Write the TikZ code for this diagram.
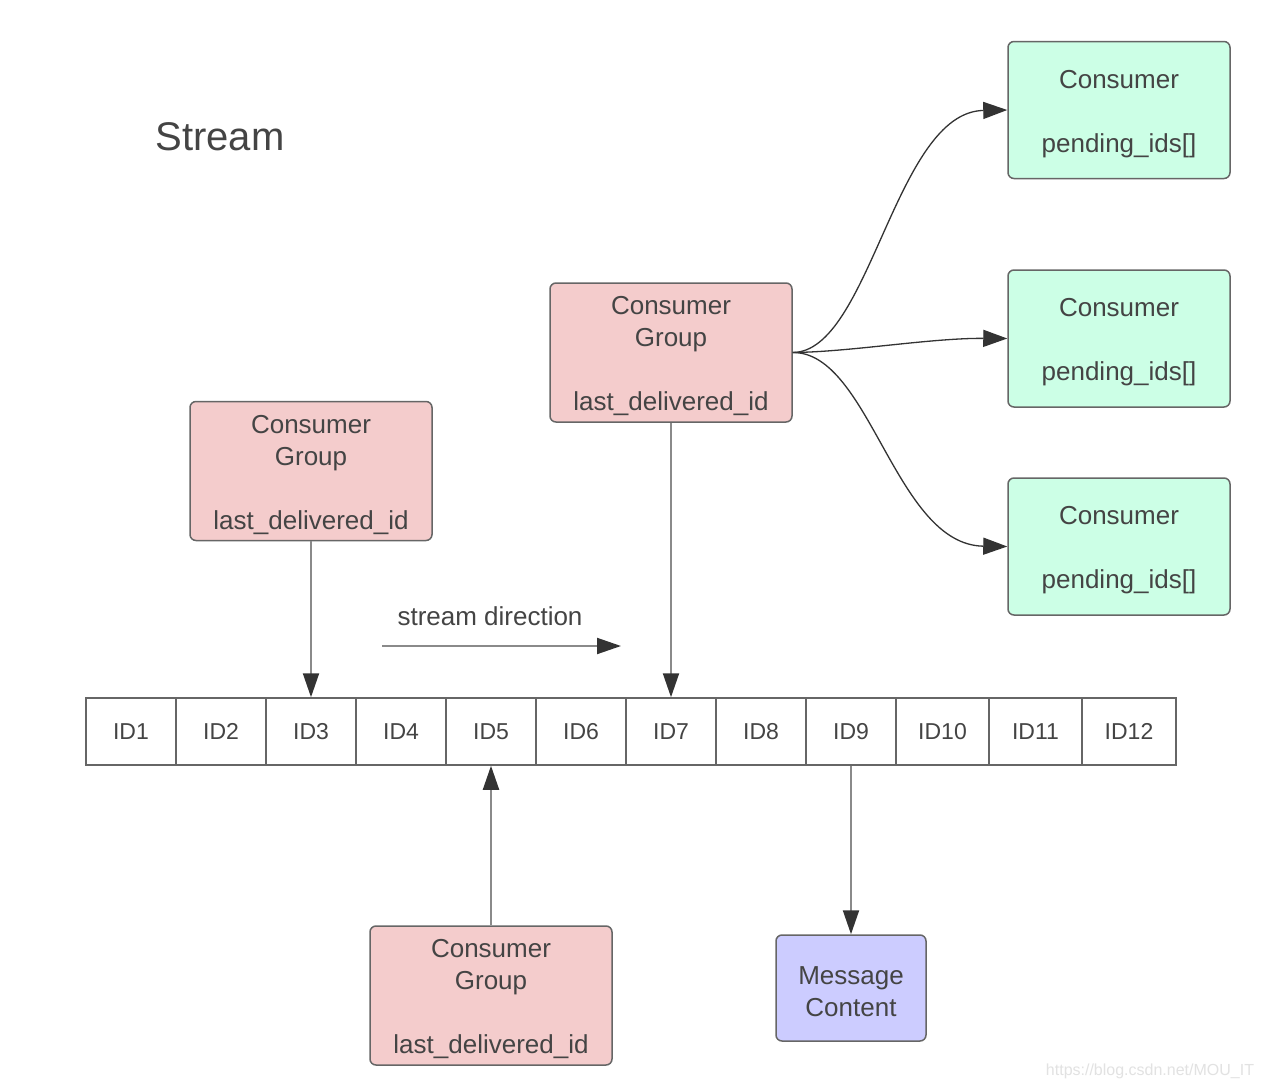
\documentclass[tikz,border=0pt]{standalone}
\usepackage{fontspec}
\setmainfont{Liberation Sans}
\usetikzlibrary{arrows.meta}
\definecolor{pinkfill}{HTML}{F4CCCC}
\definecolor{greenfill}{HTML}{CCFFE6}
\definecolor{bluefill}{HTML}{CCCCFF}
\definecolor{edge}{HTML}{666666}
\definecolor{txt}{HTML}{444444}
\definecolor{arrowgray}{HTML}{8A8A8A}
\definecolor{tipdark}{HTML}{333333}
\definecolor{wm}{HTML}{E2E2E2}
\newcommand{\topstrut}{\rule{0pt}{26pt}}
\begin{document}
\begin{tikzpicture}[x=1pt,y=-1pt,
  box/.style={draw=edge, line width=1.5pt, rounded corners=6pt, align=center, text=txt, font=\fontsize{26}{32}\selectfont, inner sep=0pt},
  group/.style={box, fill=pinkfill, minimum width=242pt, minimum height=139pt},
  consumer/.style={box, fill=greenfill, minimum width=222pt, minimum height=137pt},
  msgbox/.style={box, fill=bluefill, minimum width=150pt, minimum height=106pt},
  cell/.style={draw=edge, line width=1.5pt, text=txt, font=\fontsize{23}{28}\selectfont, minimum height=67pt, inner sep=0pt},
  feed/.style={draw=arrowgray, line width=2pt, -{Triangle[length=24pt,width=16pt,color=tipdark]}},
  fan/.style={draw=tipdark, line width=1.3pt, -{Triangle[length=24pt,width=17pt,color=tipdark]}},
  lbl/.style={text=txt, inner sep=0pt}
]
\useasboundingbox[fill=white] (0,0) rectangle (1262,1090);

\node[lbl, font=\fontsize{40}{48}\selectfont] (title) at (220,137) {Stream};

% consumers
\node[consumer] (k1) at (1119,110) {\topstrut Consumer\\[32pt]pending\_ids[]};
\node[consumer] (k2) at (1119,338.5) {\topstrut Consumer\\[32pt]pending\_ids[]};
\node[consumer] (k3) at (1119,546.5) {\topstrut Consumer\\[32pt]pending\_ids[]};

% consumer groups
\node[group] (gT) at (671,352.5) {\topstrut Consumer\\Group\\[32pt]last\_delivered\_id};
\node[group] (gL) at (311,471) {\topstrut Consumer\\Group\\[32pt]last\_delivered\_id};
\node[group] (gB) at (491,995.5) {\topstrut Consumer\\Group\\[32pt]last\_delivered\_id};

% message content
\node[msgbox] (msg) at (851,988) {\topstrut Message\\Content};

% stream cells
\foreach \i/\l/\r in {1/86/176,2/176/266,3/266/356,4/356/446,5/446/536,6/536/626,7/626/716,8/716/806,9/806/896,10/896/989,11/989/1082,12/1082/1176}
  \node[cell, minimum width={\r-\l}] (c\i) at ({(\l+\r)/2},731.5) {ID\i};

% stream direction
\node[lbl, font=\fontsize{26}{30}\selectfont] (sdl) at (490,616) {stream direction};
\coordinate (sd1) at (382,646);
\coordinate (sd2) at (621,646);
\draw[feed] (sd1) -- (sd2);

% vertical arrows
\draw[feed] (gL.south) -- (c3.north);
\draw[feed] (gT.south) -- (c7.north);
\draw[feed] (gB.north) -- (c5.south);
\draw[feed] (c9.south) -- (msg.north);

% fan-out to consumers
\draw[fan] (gT.east) .. controls (870,352) and (895,112) .. (k1.west);
\draw[fan] (gT.east) .. controls (850,352) and (930,338) .. (k2.west);
\draw[fan] (gT.east) .. controls (870,352) and (895,545) .. (k3.west);

% watermark
\node[text=wm, inner sep=0pt, font=\fontsize{16}{18}\selectfont] (wmark) at (1150,1071) {https://blog.csdn.net/MOU\_IT};
\end{tikzpicture}
\end{document}
